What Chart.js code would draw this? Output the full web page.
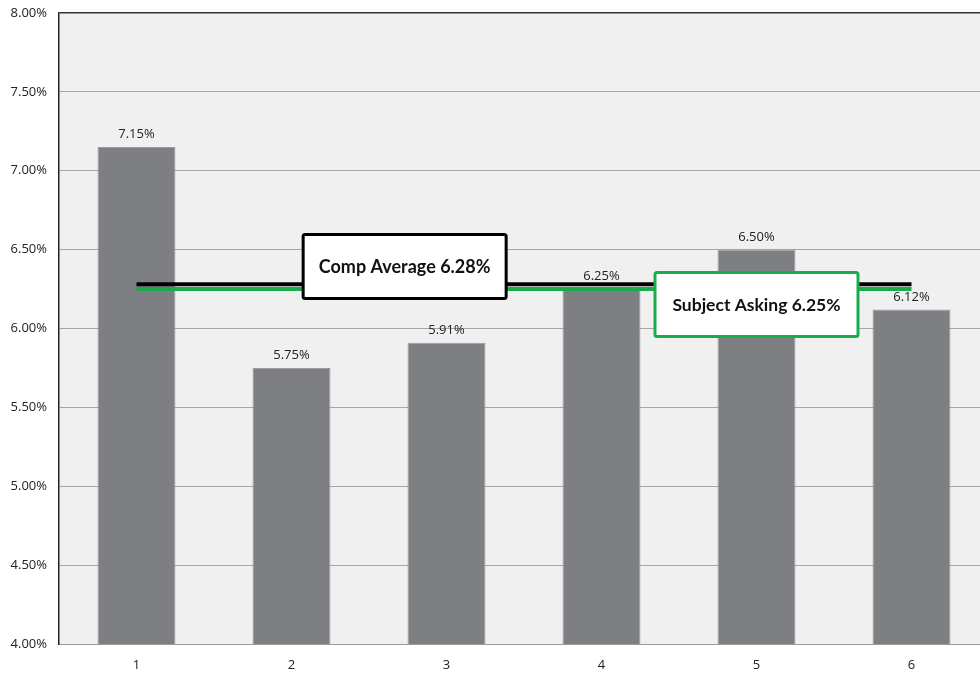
<!DOCTYPE html>
<html lang="en">
<head>
  <meta charset="UTF-8">
  <title>Comp Average vs Subject Asking</title>
  <script src="https://cdn.jsdelivr.net/npm/chart.js"></script>
  <style>
    html, body { margin: 0; padding: 0; background: #fff; overflow: hidden; }
    #wrap { width: 990px; height: 673px; }
  </style>
</head>
<body>
<div id="wrap"><canvas id="rateChart" width="990" height="673"></canvas></div>

<script>
// ---- data ----
const categories = ['1', '2', '3', '4', '5', '6'];
const rates = [7.15, 5.75, 5.91, 6.25, 6.50, 6.12];
const compAverage = 6.28;
const subjectAsking = 6.25;
const yTicks = [4.0, 4.5, 5.0, 5.5, 6.0, 6.5, 7.0, 7.5, 8.0];

const compLine = categories.map(() => compAverage);
const subjectLine = categories.map(() => subjectAsking);

// callout boxes: anchored in data space (category index, value)
const callouts = [
  { text: 'Comp Average 6.28%', at: 1.73, value: 6.393, border: '#000000', size: 18 },
  { text: 'Subject Asking 6.25%', at: 4, value: 6.152, border: '#1aab4b', size: 17.5 }
];

const tickFont = '"Open Sans", "Noto Sans", sans-serif';

const plotBg = {
  id: 'plotBg',
  beforeDraw(chart) {
    const { ctx, chartArea: a } = chart;
    ctx.save();
    ctx.fillStyle = '#f0f0f0';
    ctx.fillRect(a.left, a.top, a.right - a.left, a.bottom - a.top);
    ctx.restore();
  }
};

const barLabels = {
  id: 'barLabels',
  afterDatasetsDraw(chart) {
    const { ctx } = chart;
    const meta = chart.getDatasetMeta(2);
    ctx.save();
    ctx.font = '13px ' + tickFont;
    ctx.fillStyle = '#222';
    ctx.textAlign = 'center';
    ctx.textBaseline = 'bottom';
    meta.data.forEach((bar, i) => {
      ctx.fillText(rates[i].toFixed(2) + '%', bar.x, bar.y - 6);
    });
    ctx.restore();
  }
};

const calloutBoxes = {
  id: 'calloutBoxes',
  afterDraw(chart) {
    const { ctx, scales: { x, y } } = chart;
    ctx.save();
    callouts.forEach(c => {
      const cx = x.getPixelForValue(c.at);
      const cy = y.getPixelForValue(c.value);
      const w = 203, h = 64;
      ctx.fillStyle = '#fff';
      ctx.strokeStyle = c.border;
      ctx.lineWidth = 3;
      ctx.beginPath();
      ctx.roundRect(cx - w / 2, cy - h / 2, w, h, 2);
      ctx.fill();
      ctx.stroke();
      ctx.font = 'bold ' + c.size + 'px Lato, "Open Sans", sans-serif';
      ctx.fillStyle = '#111';
      ctx.textAlign = 'center';
      ctx.textBaseline = 'middle';
      ctx.fillText(c.text, cx, cy + 1);
    });
    ctx.restore();
  }
};

new Chart(document.getElementById('rateChart'), {
  data: {
    labels: categories,
    datasets: [
      {
        type: 'line', data: compLine, borderColor: '#000', borderWidth: 4,
        pointRadius: 0, order: 1
      },
      {
        type: 'line', data: subjectLine, borderColor: '#1aab4b', borderWidth: 4,
        pointRadius: 0, order: 0
      },
      {
        type: 'bar', data: rates, backgroundColor: '#7e7f83',
        borderColor: '#9b9b9b', borderWidth: 1,
        barPercentage: 0.503, categoryPercentage: 1, order: 2
      }
    ]
  },
  options: {
    responsive: false,
    animation: false,
    layout: { padding: { top: 13, right: 1, left: 0, bottom: 0 } },
    plugins: { legend: { display: false }, tooltip: { enabled: false } },
    scales: {
      x: {
        grid: { display: false, drawTicks: false },
        border: { display: true, color: '#9a9a9a', width: 1 },
        ticks: { color: '#222', font: { family: tickFont, size: 13 }, padding: 13 },
        afterFit(scale) { scale.height = 29; }
      },
      y: {
        min: 4, max: 8,
        afterBuildTicks(scale) { scale.ticks = yTicks.map(v => ({ value: v })); },
        grid: {
          drawTicks: false,
          color: ctx => (ctx.tick && ctx.tick.value === 8 ? '#333' : '#a6a6a6'),
          lineWidth: ctx => (ctx.tick && ctx.tick.value === 8 ? 1.5 : 1)
        },
        border: { display: true, color: '#222', width: 1.5 },
        ticks: {
          color: '#222',
          font: { family: tickFont, size: 13 },
          padding: 12,
          callback: v => Number(v).toFixed(2) + '%'
        },
        afterFit(scale) {
          scale.width = 59;
          scale.paddingTop = 0;
          scale.paddingBottom = 0;
        }
      }
    }
  },
  plugins: [plotBg, barLabels, calloutBoxes]
});
</script>
</body>
</html>
